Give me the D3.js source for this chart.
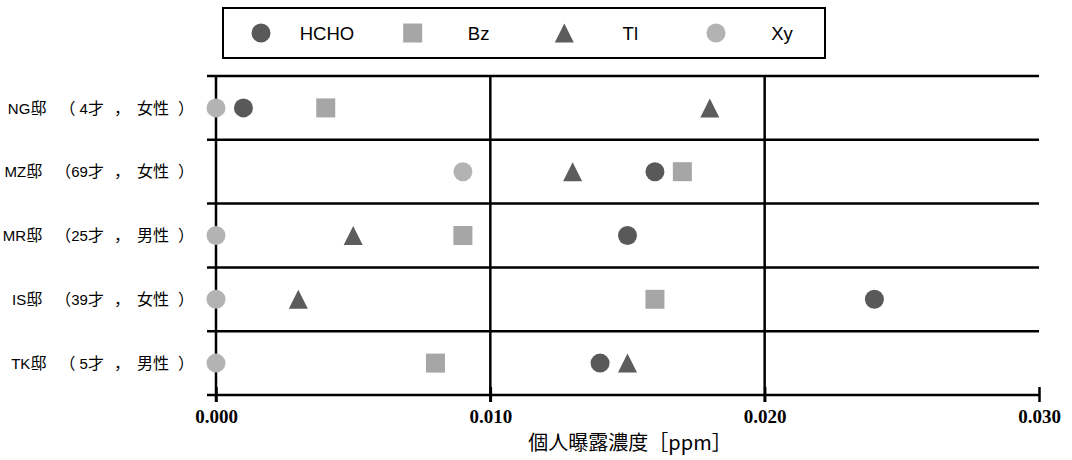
<!DOCTYPE html>
<html><head><meta charset="utf-8">
<script src="https://cdn.jsdelivr.net/npm/d3@7"></script>
<style>body{margin:0;background:#fff}svg{display:block}</style>
</head><body><svg id="c" width="1072" height="460"></svg>
<script>
const categories = ["NG邸（ 4才，女性）", "MZ邸（69才，女性）", "MR邸（25才，男性）", "IS邸（39才，女性）", "TK邸（ 5才，男性）"];
const seriesNames = ["HCHO", "Bz", "Tl", "Xy"];
const hcho = [0.001, 0.016, 0.015, 0.024, 0.014];
const bz   = [0.004, 0.017, 0.009, 0.016, 0.008];
const tl   = [0.018, 0.013, 0.005, 0.003, 0.015];
const xy   = [0.000, 0.009, 0.000, 0.000, 0.000];
const xTicks = [0, 0.01, 0.02, 0.03];
const xTitle = "個人曝露濃度［ppm］";

const series = [
  {name: "HCHO", values: hcho, shape: "circle", color: "#595959"},
  {name: "Bz", values: bz, shape: "square", color: "#a6a6a6"},
  {name: "Tl", values: tl, shape: "triangle", color: "#5c5c5c"},
  {name: "Xy", values: xy, shape: "circle", color: "#b3b3b3"}
];

const svg = d3.select("#c");
const L = 216, R = 1039, T = 76, B = 395;
const x = d3.scaleLinear().domain([0, 0.03]).range([L, R]);
const y = d3.scaleBand().domain(categories).range([T, B]).padding(0);
const lw = 2.5;
const latinFont = "'Liberation Sans', Arial, sans-serif";
const cjkFont = "'Noto Sans CJK JP', sans-serif";

function shapePath(shape, s) {
  const h = s / 2;
  if (shape === "circle") return `M${-h},0A${h},${h} 0 1,0 ${h},0A${h},${h} 0 1,0 ${-h},0Z`;
  if (shape === "square") return `M${-h},${-h}H${h}V${h}H${-h}Z`;
  return `M0,${-h}L${h},${h}L${-h},${h}Z`;
}

// horizontal category boundary lines (with outside ticks)
const bounds = categories.map(c => y(c)).concat([B]);
svg.append("g").selectAll("line").data(bounds).join("line")
  .attr("x1", L - 9).attr("x2", R).attr("y1", d => d).attr("y2", d => d)
  .attr("stroke", "#000").attr("stroke-width", lw);

// vertical gridlines / axis
svg.append("g").selectAll("line").data(xTicks.slice(0, 3)).join("line")
  .attr("x1", d => x(d)).attr("x2", d => x(d)).attr("y1", T - 1).attr("y2", B + 7)
  .attr("stroke", "#000").attr("stroke-width", lw);

// bottom axis ticks + labels via d3 axis
const xAxis = d3.axisBottom(x).tickValues(xTicks).tickFormat(d3.format(".3f")).tickSizeInner(7).tickSizeOuter(0).tickPadding(8);
const ga = svg.append("g").attr("transform", `translate(0,${B})`).call(xAxis);
ga.select(".domain").remove();
ga.selectAll(".tick line").attr("stroke", "#000").attr("stroke-width", lw).attr("y1", -8);
ga.selectAll(".tick text").attr("fill", "#000")
  .style("font-family", "'Liberation Serif', 'Times New Roman', serif")
  .style("font-weight", "bold").style("font-size", "19px");

// category labels (extra space around full-width punctuation)
const gapBefore = {"（": 13, "，": 10, "）": 9};
svg.append("g").selectAll("text").data(categories).join("text")
  .attr("x", 194).attr("y", d => y(d) + y.bandwidth() / 2).attr("dy", "0.36em")
  .attr("text-anchor", "end").attr("xml:space", "preserve").style("white-space", "pre")
  .each(function(label) {
    const t = d3.select(this);
    const chars = Array.from(label);
    chars.forEach((ch, i) => {
      const latin = ch.charCodeAt(0) < 128;
      let dx = gapBefore[ch] || 0;
      if (i > 0 && chars[i - 1] === "，") dx += 7;
      t.append("tspan").attr("dx", dx).attr("xml:space", "preserve")
        .style("font-family", latin ? latinFont : cjkFont)
        .style("font-size", latin ? "15px" : "16px")
        .text(ch === " " ? "\u00a0" : ch);
    });
  });

// x axis title
svg.append("text").attr("x", 630).attr("y", 450).attr("text-anchor", "middle")
  .style("font-family", cjkFont).style("font-size", "20px")
  .text(xTitle);

// markers
const gm = svg.append("g");
series.forEach(s => {
  gm.append("g").selectAll("path").data(s.values.map((v, i) => ({v, c: categories[i]}))).join("path")
    .attr("transform", d => `translate(${x(d.v)},${y(d.c) + y.bandwidth() / 2})`)
    .attr("d", shapePath(s.shape, 19)).attr("fill", s.color);
});

// legend
svg.append("rect").attr("x", 223).attr("y", 8).attr("width", 602).attr("height", 50)
  .attr("fill", "#fff").attr("stroke", "#000").attr("stroke-width", 2);
const lx = d3.scalePoint().domain(seriesNames).range([261, 716]);
const lg = svg.append("g");
series.forEach(s => {
  lg.append("path").attr("transform", `translate(${lx(s.name)},33)`).attr("d", shapePath(s.shape, 19)).attr("fill", s.color);
  lg.append("text").attr("x", lx(s.name) + 66).attr("y", 33).attr("dy", "0.36em").attr("text-anchor", "middle")
    .style("font-family", latinFont).style("font-size", "18.5px").text(s.name);
});
</script></body></html>
